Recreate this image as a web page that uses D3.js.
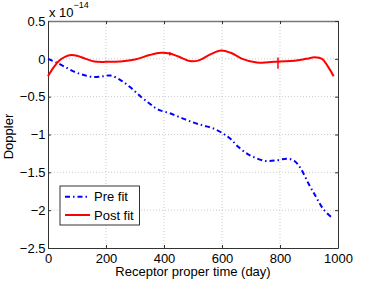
<!DOCTYPE html>
<html>
<head>
<meta charset="utf-8">
<script src="https://cdn.jsdelivr.net/npm/d3@7"></script>
<style>
  body { margin: 0; background: #fff; }
  svg { font-family: "Liberation Sans", Arial, sans-serif; }
</style>
</head>
<body>
<svg width="374" height="281"></svg>
<script>
// values in units of 1e-14
const preDays = [0, 30, 60, 90, 120, 155, 190, 215, 250, 285, 320, 350, 380, 420, 460, 500, 535, 570, 605, 630, 655, 685, 710, 750, 790, 825, 850, 870, 900, 925, 950, 980];
const preVals = [0.0, -0.05, -0.11, -0.17, -0.21, -0.24, -0.23, -0.22, -0.28, -0.38, -0.50, -0.59, -0.67, -0.72, -0.78, -0.84, -0.88, -0.92, -0.99, -1.06, -1.16, -1.25, -1.30, -1.35, -1.34, -1.32, -1.35, -1.44, -1.66, -1.83, -1.99, -2.10];

const postDays = [0, 20, 40, 60, 80, 100, 130, 160, 200, 250, 300, 350, 390, 420, 450, 490, 520, 560, 597, 630, 670, 720, 760, 800, 850, 890, 920, 945, 965, 985];
const postVals = [-0.23, -0.11, -0.02, 0.03, 0.05, 0.04, 0.0, -0.035, -0.04, -0.035, -0.01, 0.05, 0.08, 0.07, 0.03, -0.03, -0.02, 0.06, 0.11, 0.08, 0.0, -0.05, -0.045, -0.035, -0.025, 0.0, 0.02, 0.0, -0.1, -0.23];

// small vertical marks on the post fit curve
const markDays = [420, 793];
const markLo = [0.045, -0.13];
const markHi = [0.09, 0.016];

const xTicks = [0, 200, 400, 600, 800, 1000];
const yTicks = [0.5, 0, -0.5, -1, -1.5, -2, -2.5];
const seriesNames = ["Pre fit", "Post fit"];

const svg = d3.select("svg");
const mLeft = 48, mRight = 338, mTop = 21, mBottom = 248;

const x = d3.scaleLinear().domain([0, 1000]).range([mLeft, mRight]);
const y = d3.scaleLinear().domain([-2.5, 0.5]).range([mBottom, mTop]);

const fmt = d => d < 0 ? "\u2212" + Math.abs(d) : String(d);

// grid
svg.append("g").selectAll("line").data(xTicks.slice(1, -1)).enter().append("line")
  .attr("x1", d => x(d)).attr("x2", d => x(d)).attr("y1", mTop).attr("y2", mBottom)
  .attr("stroke", "#aaa").attr("stroke-width", 0.6).attr("stroke-dasharray", "1,2");
svg.append("g").selectAll("line").data(yTicks.slice(1, -1)).enter().append("line")
  .attr("y1", d => y(d)).attr("y2", d => y(d)).attr("x1", mLeft).attr("x2", mRight)
  .attr("stroke", "#aaa").attr("stroke-width", 0.6).attr("stroke-dasharray", "1,2");

// axes
const axB = svg.append("g").attr("transform", "translate(0," + mBottom + ")")
  .call(d3.axisBottom(x).tickValues(xTicks).tickSizeInner(-3).tickSizeOuter(0).tickPadding(5.5).tickFormat(fmt));
const axL = svg.append("g").attr("transform", "translate(" + mLeft + ",0)")
  .call(d3.axisLeft(y).tickValues(yTicks).tickSizeInner(-3).tickSizeOuter(0).tickPadding(2.5).tickFormat(fmt));
const axT = svg.append("g").attr("transform", "translate(0," + mTop + ")")
  .call(d3.axisTop(x).tickValues(xTicks).tickSizeInner(-3).tickSizeOuter(0).tickFormat(""));
const axR = svg.append("g").attr("transform", "translate(" + mRight + ",0)")
  .call(d3.axisRight(y).tickValues(yTicks).tickSizeInner(-3).tickSizeOuter(0).tickFormat(""));

[axB, axL, axT, axR].forEach(a => {
  a.select(".domain").attr("stroke", "#333").attr("stroke-width", 1);
  a.selectAll(".tick line").attr("stroke", "#333");
  a.selectAll("text").attr("font-size", 13).attr("fill", "#000")
    .attr("font-family", "'Liberation Sans', Arial, sans-serif");
});
axT.select(".domain").attr("stroke", "#777").attr("stroke-width", 1.5);

// lines
const line = d3.line().x(d => x(d[0])).y(d => y(d[1])).curve(d3.curveCatmullRom);
const preData = preDays.map((d, i) => [d, preVals[i]]);
const postData = postDays.map((d, i) => [d, postVals[i]]);

svg.append("path").datum(preData).attr("d", line)
  .attr("fill", "none").attr("stroke", "#0000ff").attr("stroke-width", 2)
  .attr("stroke-dasharray", "5,3,1.5,3");
svg.append("path").datum(postData).attr("d", line)
  .attr("fill", "none").attr("stroke", "#ff0000").attr("stroke-width", 2);

svg.append("g").selectAll("line").data(markDays).enter().append("line")
  .attr("x1", d => x(d)).attr("x2", d => x(d))
  .attr("y1", (d, i) => y(markHi[i])).attr("y2", (d, i) => y(markLo[i]))
  .attr("stroke", "#ff0000").attr("stroke-width", 1.5);

// exponent label
const ex = svg.append("text").attr("x", mLeft + 1).attr("y", 16.5).attr("font-size", 13);
ex.append("tspan").text("x 10");
ex.append("tspan").attr("dy", -9).attr("font-size", 9).text("\u221214");

// axis labels
svg.append("text").attr("x", (mLeft + mRight) / 2).attr("y", 275.5)
  .attr("text-anchor", "middle").attr("font-size", 13).text("Receptor proper time (day)");
svg.append("text").attr("transform", "translate(12.5," + ((mTop + mBottom) / 2 + 2) + ") rotate(-90)")
  .attr("text-anchor", "middle").attr("font-size", 13).text("Doppler");

// legend
const lg = svg.append("g").attr("transform", "translate(60,186)");
lg.append("rect").attr("width", 79.5).attr("height", 39)
  .attr("fill", "#fff").attr("stroke", "#000").attr("stroke-width", 0.8);
const colors = ["#0000ff", "#ff0000"];
const dashes = ["5,3,1.5,3", null];
seriesNames.forEach((n, i) => {
  const yy = 10.7 + i * 18.3;
  lg.append("line").attr("x1", 5).attr("x2", 30).attr("y1", yy).attr("y2", yy)
    .attr("stroke", colors[i]).attr("stroke-width", 2)
    .attr("stroke-dasharray", dashes[i]);
  lg.append("text").attr("x", 34).attr("y", yy + 4.7).attr("font-size", 13).text(n);
});
</script>
</body>
</html>
